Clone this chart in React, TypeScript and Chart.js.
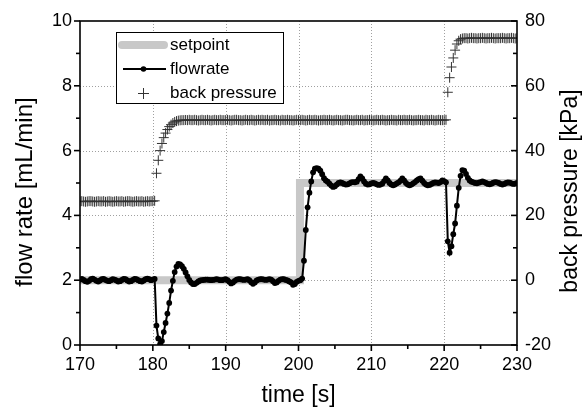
import React, { useEffect, useRef } from "react";
import { Chart, registerables } from "chart.js";

Chart.register(...registerables);

const FONT = "'Liberation Sans', Arial, Helvetica, sans-serif";

// sample clock of the recorder (s)
const T_START = 170;
const T_STEP = 0.25;

// measured flow rate [mL/min], one value per 0.25 s, 170 s .. 230 s
const flowrate = [
  2.02, 2.04, 2.01, 1.97, 1.95, 1.98, 2.03, 2.05, 2.02, 1.98, 1.96, 1.99, 2.03, 2.04, 2.01, 1.98, 1.97, 2.0, 2.03, 2.02,
  1.99, 1.96, 1.97, 2.01, 2.04, 2.03, 1.99, 1.96, 1.97, 2.01, 2.04, 2.03, 2.0, 1.97, 1.96, 1.99, 2.03, 2.05, 2.03, 2.0,
  2.02, 2.04, 0.6, 0.2, 0.03, 0.12, 0.4, 0.68, 0.97, 1.3, 1.68, 1.98, 2.25, 2.42, 2.5, 2.49, 2.43, 2.35, 2.24, 2.12,
  2.01, 1.93, 1.88, 1.88, 1.92, 1.96, 1.99, 2.0, 2.01, 2.02, 2.02, 2.01, 2.0, 2.01, 2.02, 2.03, 2.02, 2.0, 2.0, 2.02,
  2.03, 2.0, 1.95, 1.9, 1.93, 1.98, 2.02, 2.03, 2.03, 2.02, 2.01, 2.02, 2.03, 2.0, 1.94, 1.89, 1.93, 1.99, 2.02, 2.03,
  2.03, 2.02, 2.01, 2.02, 2.03, 2.02, 1.97, 1.91, 1.93, 1.98, 2.02, 2.03, 2.03, 2.01, 1.99, 1.96, 1.93, 1.86, 1.88, 1.95,
  1.98, 2.0, 2.05, 2.6, 3.55, 4.25, 4.7, 5.05, 5.33, 5.44, 5.46, 5.44, 5.38, 5.27, 5.15, 5.08, 5.04, 4.98, 4.92, 4.88,
  4.9, 4.95, 5.0, 5.02, 5.0, 4.97, 4.95, 4.96, 4.99, 5.02, 5.03, 5.02, 5.04, 5.12, 5.2, 5.14, 5.05, 4.98, 4.95, 4.96,
  4.99, 5.0, 4.99, 4.96, 4.94, 4.95, 4.98, 5.06, 5.14, 5.08, 5.0, 4.95, 4.93, 4.95, 4.99, 5.02, 5.07, 5.14, 5.08, 5.0,
  4.95, 4.93, 4.95, 4.99, 5.03, 5.08, 5.12, 5.14, 5.07, 5.0, 4.95, 4.93, 4.94, 4.97, 5.0, 5.02, 5.01, 5.0, 5.03, 5.08,
  5.06, 5.02, 3.2, 2.85, 3.05, 3.42, 3.75, 4.3, 4.85, 5.22, 5.4, 5.38, 5.28, 5.16, 5.08, 5.04, 5.02, 5.0, 4.99, 5.01,
  5.03, 5.05, 5.03, 5.0, 4.97, 4.96, 4.98, 5.01, 5.03, 5.02, 5.0, 4.97, 4.95, 4.97, 5.0, 5.02, 5.01, 4.99, 4.97, 4.98,
  5.0,
];

// back pressure [kPa], same clock
const backPressure = [
  24.3, 24.4, 24.3, 24.2, 24.3, 24.4, 24.4, 24.3, 24.2, 24.3, 24.4, 24.3, 24.3, 24.4, 24.2, 24.3, 24.4, 24.3, 24.2, 24.3,
  24.4, 24.3, 24.3, 24.4, 24.2, 24.3, 24.4, 24.4, 24.3, 24.2, 24.3, 24.4, 24.3, 24.3, 24.4, 24.2, 24.3, 24.4, 24.3, 24.4,
  24.4, 24.5, 33.0, 37.0, 40.0, 42.2, 44.0, 45.4, 46.5, 47.4, 48.0, 48.5, 48.85, 49.1, 49.25, 49.35, 49.4, 49.4, 49.45, 49.4,
  49.5, 49.4, 49.4, 49.5, 49.4, 49.3, 49.4, 49.5, 49.4, 49.4, 49.5, 49.4, 49.3, 49.4, 49.5, 49.4, 49.4, 49.5, 49.4, 49.4,
  49.4, 49.5, 49.4, 49.3, 49.4, 49.5, 49.5, 49.4, 49.4, 49.3, 49.4, 49.5, 49.4, 49.4, 49.5, 49.4, 49.3, 49.4, 49.5, 49.4,
  49.5, 49.4, 49.4, 49.5, 49.3, 49.4, 49.4, 49.5, 49.4, 49.4, 49.3, 49.5, 49.4, 49.4, 49.5, 49.4, 49.4, 49.3, 49.4, 49.5,
  49.4, 49.4, 49.5, 49.4, 49.3, 49.4, 49.5, 49.4, 49.4, 49.5, 49.4, 49.3, 49.4, 49.4, 49.5, 49.4, 49.4, 49.5, 49.4, 49.3,
  49.4, 49.5, 49.4, 49.4, 49.3, 49.4, 49.5, 49.5, 49.4, 49.4, 49.3, 49.4, 49.5, 49.4, 49.4, 49.5, 49.3, 49.4, 49.4, 49.5,
  49.4, 49.3, 49.4, 49.5, 49.4, 49.4, 49.5, 49.4, 49.3, 49.4, 49.4, 49.5, 49.4, 49.4, 49.3, 49.5, 49.4, 49.4, 49.5, 49.4,
  49.4, 49.5, 49.4, 49.3, 49.4, 49.4, 49.5, 49.4, 49.4, 49.3, 49.5, 49.4, 49.4, 49.5, 49.4, 49.3, 49.4, 49.5, 49.4, 49.4,
  49.4, 49.5, 58.0, 62.5, 65.8, 68.6, 71.0, 72.9, 73.9, 74.4, 74.6, 74.7, 74.7, 74.6, 74.7, 74.8, 74.7, 74.7, 74.6, 74.7,
  74.7, 74.8, 74.7, 74.6, 74.7, 74.7, 74.8, 74.7, 74.6, 74.7, 74.7, 74.7, 74.8, 74.7, 74.6, 74.7, 74.7, 74.8, 74.7, 74.6,
  74.7,
];

// setpoint [mL/min]
const setpointTimes = [170, 200.2, 200.2, 230];
const setpointValues = [2, 2, 5, 5];

// axes
const xMajor = [170, 180, 190, 200, 210, 220, 230];
const xMinor = [175, 185, 195, 205, 215, 225];
const xGrid = [180, 190, 200, 210, 220];
const yMajor = [0, 2, 4, 6, 8, 10];
const yMinor = [1, 3, 5, 7, 9];
const yGrid = [2, 4, 6, 8];
const y1Major = [-20, 0, 20, 40, 60, 80];
const y1Minor = [-10, 10, 30, 50, 70];

const X_TITLE = "time [s]";
const Y_TITLE = "flow rate [mL/min]";
const Y1_TITLE = "back pressure [kPa]";

const framePlugin = {
  id: "originFrame",
  beforeDatasetsDraw(chart: any) {
    const { ctx, chartArea: a, scales } = chart;
    const x = scales.x;
    const y = scales.y;
    ctx.save();
    ctx.strokeStyle = "#a0a0a0";
    ctx.lineWidth = 1;
    ctx.setLineDash([1, 2]);
    for (const t of xGrid) {
      const px = Math.round(x.getPixelForValue(t)) + 0.5;
      ctx.beginPath();
      ctx.moveTo(px, a.top);
      ctx.lineTo(px, a.bottom);
      ctx.stroke();
    }
    for (const v of yGrid) {
      const py = Math.round(y.getPixelForValue(v)) + 0.5;
      ctx.beginPath();
      ctx.moveTo(a.left, py);
      ctx.lineTo(a.right, py);
      ctx.stroke();
    }
    ctx.restore();
  },
  afterDraw(chart: any) {
    const { ctx, chartArea: a, scales } = chart;
    const x = scales.x;
    const y = scales.y;
    const y1 = scales.y1;
    ctx.save();
    ctx.strokeStyle = "#000";
    ctx.lineWidth = 1.6;
    ctx.setLineDash([]);
    ctx.strokeRect(a.left, a.top, a.right - a.left, a.bottom - a.top);
    const tick = (x0: number, y0: number, x1: number, y1p: number) => {
      ctx.beginPath();
      ctx.moveTo(x0, y0);
      ctx.lineTo(x1, y1p);
      ctx.stroke();
    };
    for (const t of xMajor) { const px = x.getPixelForValue(t); tick(px, a.bottom, px, a.bottom + 6); }
    for (const t of xMinor) { const px = x.getPixelForValue(t); tick(px, a.bottom, px, a.bottom + 4); }
    for (const v of yMajor) { const py = y.getPixelForValue(v); tick(a.left, py, a.left - 6, py); }
    for (const v of yMinor) { const py = y.getPixelForValue(v); tick(a.left, py, a.left - 4, py); }
    for (const v of y1Major) { const py = y1.getPixelForValue(v); tick(a.right, py, a.right - 6, py); }
    for (const v of y1Minor) { const py = y1.getPixelForValue(v); tick(a.right, py, a.right - 4, py); }
    ctx.restore();

    // axis titles
    const midY = (a.top + a.bottom) / 2 + 8;
    ctx.save();
    ctx.fillStyle = "#000";
    ctx.textAlign = "center";
    ctx.textBaseline = "alphabetic";
    ctx.font = `23px ${FONT}`;
    ctx.fillText(X_TITLE, (a.left + a.right) / 2, 402);
    ctx.save();
    ctx.font = `24px ${FONT}`;
    ctx.translate(32, midY + 1);
    ctx.rotate(-Math.PI / 2);
    ctx.fillText(Y_TITLE, 0, 0);
    ctx.restore();
    ctx.save();
    ctx.font = `23px ${FONT}`;
    ctx.translate(577, midY);
    ctx.rotate(-Math.PI / 2);
    ctx.fillText(Y1_TITLE, 0, 0);
    ctx.restore();
    ctx.restore();

    // legend
    const ds = chart.data.datasets;
    ctx.save();
    ctx.fillStyle = "#fff";
    ctx.fillRect(116, 32, 167, 71);
    ctx.strokeStyle = "#000";
    ctx.lineWidth = 1;
    ctx.strokeRect(116.5, 32.5, 167, 71);
    ctx.font = `17px ${FONT}`;
    ctx.fillStyle = "#000";
    ctx.textAlign = "left";
    ctx.textBaseline = "middle";
    // setpoint
    ctx.strokeStyle = "#c8c8c8";
    ctx.lineWidth = 8;
    ctx.lineCap = "round";
    ctx.beginPath();
    ctx.moveTo(122, 45);
    ctx.lineTo(164, 45);
    ctx.stroke();
    ctx.fillText(ds[2].label, 170, 45);
    // flowrate
    ctx.lineCap = "butt";
    ctx.strokeStyle = "#000";
    ctx.lineWidth = 2;
    ctx.beginPath();
    ctx.moveTo(123, 69);
    ctx.lineTo(166, 69);
    ctx.stroke();
    ctx.beginPath();
    ctx.arc(143.5, 69, 2.8, 0, Math.PI * 2);
    ctx.fill();
    ctx.fillText(ds[0].label, 170, 69);
    // back pressure
    ctx.strokeStyle = "#333";
    ctx.lineWidth = 1;
    ctx.beginPath();
    ctx.moveTo(138, 93.5);
    ctx.lineTo(149, 93.5);
    ctx.moveTo(143.5, 88);
    ctx.lineTo(143.5, 99);
    ctx.stroke();
    ctx.fillText(ds[1].label, 170, 93);
    ctx.restore();
  },
};

export default function App() {
  const ref = useRef<HTMLCanvasElement | null>(null);
  useEffect(() => {
    if (!ref.current) return;
    const flowPts = flowrate.map((v, i) => ({ x: T_START + i * T_STEP, y: v }));
    const bpPts = backPressure.map((v, i) => ({ x: T_START + i * T_STEP, y: v }));
    const spPts = setpointTimes.map((t, i) => ({ x: t, y: setpointValues[i] }));
    const tickFont = { size: 18, family: FONT };
    const chart = new Chart(ref.current, {
      type: "line",
      data: {
        datasets: [
          {
            label: "flowrate",
            data: flowPts,
            yAxisID: "y",
            borderColor: "#000",
            backgroundColor: "#000",
            borderWidth: 2,
            pointRadius: 2.9,
            pointBorderWidth: 0,
            pointBackgroundColor: "#000",
            tension: 0,
            order: 1,
          },
          {
            label: "back pressure",
            data: bpPts,
            yAxisID: "y1",
            showLine: false,
            pointStyle: "cross",
            pointRadius: 5,
            pointBorderColor: "#333",
            pointBorderWidth: 1,
            borderColor: "#333",
            order: 2,
          },
          {
            label: "setpoint",
            data: spPts,
            yAxisID: "y",
            borderColor: "#c8c8c8",
            borderWidth: 8,
            pointRadius: 0,
            tension: 0,
            order: 3,
          },
        ],
      },
      options: {
        responsive: false,
        animation: false,
        events: [],
        layout: { padding: { top: 21, left: 0, right: 0, bottom: 0 } },
        plugins: { legend: { display: false }, tooltip: { enabled: false } },
        scales: {
          x: {
            type: "linear",
            min: 170,
            max: 230,
            afterFit: (s: any) => { s.height = 64; },
            grid: { display: false, drawTicks: false },
            border: { display: false },
            ticks: { stepSize: 10, color: "#000", font: tickFont, padding: 9 },
            title: { display: false, text: X_TITLE },
          },
          y: {
            type: "linear",
            position: "left",
            min: 0,
            max: 10,
            afterFit: (s: any) => { s.width = 80; },
            grid: { display: false, drawTicks: false },
            border: { display: false },
            ticks: { stepSize: 2, color: "#000", font: tickFont, padding: 8 },
            title: { display: false, text: Y_TITLE },
          },
          y1: {
            type: "linear",
            position: "right",
            min: -20,
            max: 80,
            afterFit: (s: any) => { s.width = 66; },
            grid: { display: false, drawTicks: false },
            border: { display: false },
            ticks: { stepSize: 20, color: "#000", font: tickFont, padding: 8 },
            title: { display: false, text: Y1_TITLE },
          },
        },
      },
      plugins: [framePlugin],
    });
    return () => chart.destroy();
  }, []);
  return (
    <div style={{ position: "fixed", left: 0, top: 0, width: 583, height: 409, background: "#fff" }}>
      <canvas ref={ref} width={583} height={409} style={{ display: "block" }} />
    </div>
  );
}
